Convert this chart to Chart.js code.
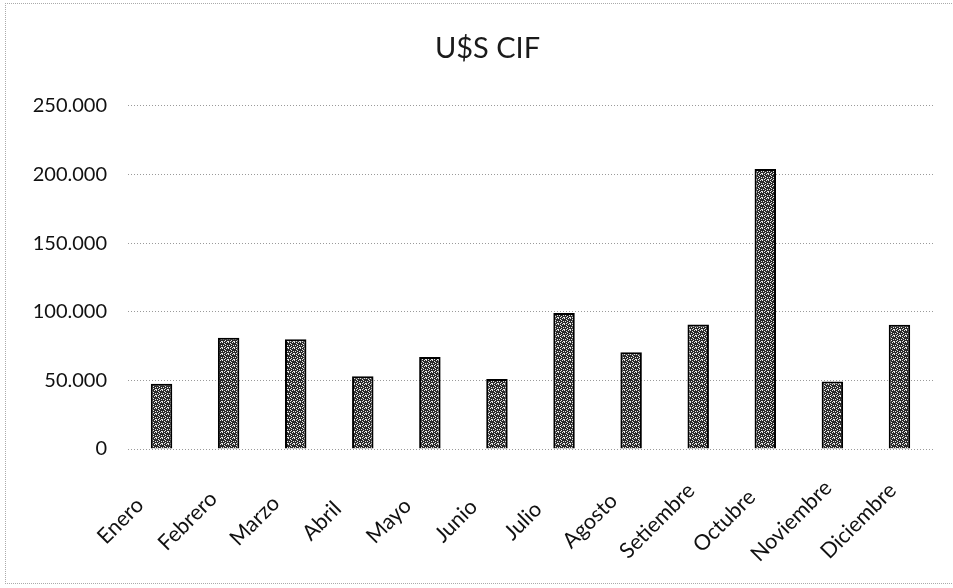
<!DOCTYPE html>
<html>
<head>
<meta charset="utf-8">
<script src="https://cdn.jsdelivr.net/npm/chart.js@4.4.1/dist/chart.umd.min.js"></script>
<style>
  html, body { margin: 0; padding: 0; background: #fff; }
  #wrap { position: relative; width: 953px; height: 588px; }
  #frame {
    position: absolute; left: 5px; top: 3px; width: 960px; height: 579px;
    border-top: 1px dotted #aaa; border-left: 1px dotted #aaa; border-bottom: 1px dotted #aaa;
    pointer-events: none;
  }
</style>
</head>
<body>
<div id="wrap">
  <canvas id="barChart" width="953" height="588"></canvas>
  <div id="frame"></div>
</div>
<script>
// datos
const meses = ['Enero', 'Febrero', 'Marzo', 'Abril', 'Mayo', 'Junio', 'Julio', 'Agosto', 'Setiembre', 'Octubre', 'Noviembre', 'Diciembre'];
const cif = [47500, 81000, 80000, 53000, 67000, 51000, 99000, 70500, 90700, 204000, 49200, 90500];
const yTicks = [0, 50000, 100000, 150000, 200000, 250000];

// miles con punto
function fmt(v) {
  return String(v).replace(/\B(?=(\d{3})+(?!\d))/g, '.');
}

// textura punteada de las barras (patrón fijo)
function makePattern() {
  let c = document.createElement('canvas');
  c.width = 6; c.height = 6;
  let g = c.getContext('2d');
  g.fillStyle = '#2b2b2b';
  g.fillRect(0, 0, 6, 6);
  g.fillStyle = '#e8e8e8';
  [[0, 0], [2, 1], [4, 0], [1, 3], [3, 2], [5, 3], [0, 5], [3, 4], [5, 5], [2, 5]].forEach(p => g.fillRect(p[0], p[1], 1, 1));
  return g.createPattern(c, 'repeat');
}

const font = "Lato, 'Open Sans', sans-serif";

// título centrado sobre el área sin las etiquetas del eje
const titleShift = {
  id: 'titleShift',
  afterLayout(chart) {
    if (chart.titleBlock) chart.titleBlock.left = 42;
  }
};

// etiquetas de meses giradas y centradas (como en Excel)
const monthLabels = {
  id: 'monthLabels',
  afterDraw(chart) {
    let x = chart.scales.x;
    let c = chart.ctx;
    c.save();
    c.fillStyle = '#111';
    c.font = '21.5px ' + font;
    c.textAlign = 'center';
    c.textBaseline = 'middle';
    meses.forEach((m, i) => {
      c.save();
      c.translate(x.getPixelForTick(i) - 41, chart.chartArea.bottom + 72);
      c.rotate(-Math.PI / 4);
      c.fillText(m, 0, 0);
      c.restore();
    });
    c.restore();
  }
};

let ctx = document.getElementById('barChart');

let config = {
  type: 'bar',
  data: {
    labels: meses,
    datasets: [{
      label: 'U$S CIF',
      data: cif,
      backgroundColor: makePattern(),
      borderColor: '#000',
      borderWidth: 2,
      barPercentage: 0.64,
      categoryPercentage: 0.5
    }]
  },
  options: {
    responsive: false,
    animation: false,
    layout: {
      padding: { left: 0, right: 20, top: 0, bottom: 0 }
    },
    plugins: {
      legend: { display: false },
      tooltip: { enabled: false },
      title: {
        display: true,
        text: 'U$S CIF',
        color: '#1a1a1a',
        font: { family: font, size: 29, weight: 'normal' },
        padding: { top: 31, bottom: 40 }
      }
    },
    scales: {
      x: {
        grid: { display: false, drawTicks: false },
        border: { display: false },
        ticks: { display: false },
        afterFit: function (scale) { scale.height = 139; }
      },
      y: {
        min: 0,
        max: 250000,
        afterBuildTicks: function (scale) {
          scale.ticks = yTicks.map(v => ({ value: v }));
        },
        grid: {
          color: '#9a9a9a',
          lineWidth: 1,
          drawTicks: false
        },
        border: { display: false, dash: [1, 2] },
        ticks: {
          color: '#111',
          font: { family: font, size: 20 },
          padding: 21,
          callback: v => fmt(v)
        },
        afterFit: function (scale) { scale.width = 128; }
      }
    }
  },
  plugins: [titleShift, monthLabels]
};

let barChart = new Chart(ctx, config);
</script>
</body>
</html>
